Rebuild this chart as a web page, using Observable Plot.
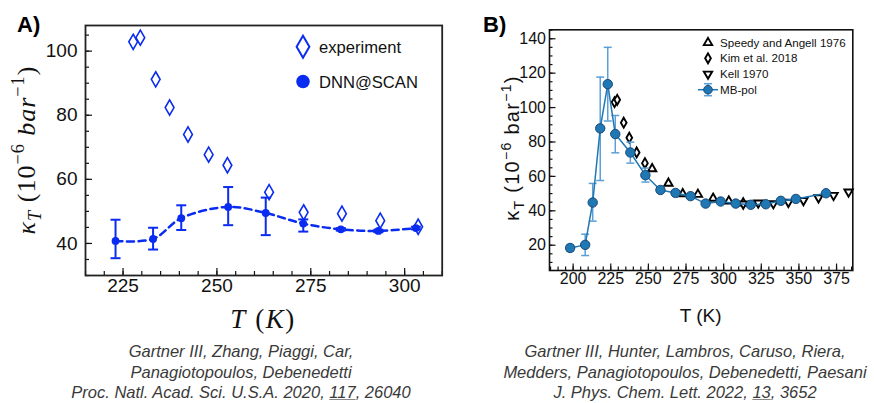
<!DOCTYPE html>
<html><head><meta charset="utf-8">
<script src="https://cdn.jsdelivr.net/npm/d3@7"></script>
<script src="https://cdn.jsdelivr.net/npm/@observablehq/plot@0.6"></script>
<style>
body{margin:0;background:#fff;}
#root{position:relative;width:874px;height:403px;overflow:hidden;font-family:"Liberation Sans",Arial,sans-serif;background:#fff;}
.panel{position:absolute;top:0;}
.plbl{position:absolute;top:12px;font-weight:bold;font-size:22px;color:#000;}
.cap{position:absolute;top:341px;text-align:center;font-style:italic;font-size:16.5px;line-height:20.6px;color:#3a3a3a;white-space:nowrap;}
.cap u{text-decoration-color:#888;}
</style></head><body><div id="root"></div>
<script>
// ---------- Panel A data ----------
const expT = [227.7, 229.6, 233.7, 237.4, 242.3, 247.8, 252.8, 263.9, 273.1, 283.3, 293.5, 303.6];
const expK = [102.9, 104.2, 91.2, 82.4, 74.0, 67.7, 64.4, 56.0, 49.7, 49.3, 47.1, 45.2];
const dnnT = [223, 233, 240.5, 253, 263, 273, 283, 293, 303];
const dnnK = [40.8, 41.4, 47.9, 51.4, 49.5, 46.2, 44.4, 43.9, 44.8];
const dnnLo = [35.4, 38.1, 44.2, 45.7, 42.6, 43.7, 44.0, 43.5, 44.4];
const dnnHi = [47.4, 44.9, 51.9, 57.6, 54.3, 47.5, 44.8, 44.3, 45.2];
const aXTicks = [225, 250, 275, 300];
const aYTicks = [40, 60, 80, 100];

// ---------- Panel B data ----------
const mbT = [198, 208, 213, 218, 223, 228, 238, 248, 258, 268, 278, 288, 298, 308, 318, 328, 338, 348, 368];
const mbK = [18.4, 20.2, 44.8, 87.9, 113.6, 84.6, 73.9, 60.7, 52.1, 50.4, 48.5, 44.2, 45.4, 44.2, 43.5, 43.8, 45.8, 46.9, 50.2];
const mbLo = [16.5, 14.0, 34.0, 57.6, 92.2, 73.7, 67.7, 56.7, 51.2, 49.5, 47.6, 43.4, 44.6, 43.4, 42.7, 43.0, 45.0, 46.1, 49.4];
const mbHi = [20.2, 26.4, 55.9, 117.7, 135.0, 95.4, 79.9, 64.8, 53.0, 51.3, 49.4, 45.0, 46.2, 45.0, 44.3, 44.6, 46.6, 47.7, 51.0];
const speedyT = [252.5, 263.3, 272.8, 282.9, 293.0, 303.4, 313.0];
const speedyK = [64.4, 56.0, 49.9, 49.5, 47.2, 45.6, 44.5];
const kimT = [227.5, 229.3, 233.6, 237.3, 242.2, 247.7];
const kimK = [103.1, 104.5, 91.2, 82.5, 73.9, 67.7];
const kellT = [313, 323, 333, 343, 353, 363, 373, 383];
const kellK = [44.0, 44.6, 44.2, 45.0, 46.0, 47.6, 49.0, 51.0];
const bXTicks = [200, 225, 250, 275, 300, 325, 350, 375];
const bYTicks = [20, 40, 60, 80, 100, 120, 140];

const legendA = ["experiment", "DNN@SCAN"];
const legendB = ["Speedy and Angell 1976", "Kim et al. 2018", "Kell 1970", "MB-pol"];

// tables
const expData = expT.map((t, i) => ({T: t, K: expK[i]}));
const dnnData = dnnT.map((t, i) => ({T: t, K: dnnK[i], lo: dnnLo[i], hi: dnnHi[i]}));
const mbData = mbT.map((t, i) => ({T: t, K: mbK[i], lo: mbLo[i], hi: mbHi[i]}));
const speedyData = speedyT.map((t, i) => ({T: t, K: speedyK[i]}));
const kimData = kimT.map((t, i) => ({T: t, K: kimK[i]}));
const kellData = kellT.map((t, i) => ({T: t, K: kellK[i]}));

const capSymbol = {draw(ctx, size) { const w = Math.sqrt(size / Math.PI); ctx.moveTo(-w, 0); ctx.lineTo(w, 0); }};

const BLUE = "#0a2cf0";
const SANS = "Liberation Sans, Arial, Helvetica, sans-serif";
const SERIF = "Liberation Serif, Times New Roman, serif";

function rich(svg, {x, y, rotate = 0, size, family, anchor = "middle", spacing = 0}, parts) {
  const t = d3.select(svg).append("text")
    .attr("transform", `translate(${x},${y}) rotate(${rotate})`)
    .attr("text-anchor", anchor).attr("font-family", family)
    .attr("font-size", size).attr("fill", "#111")
    .attr("letter-spacing", spacing);
  let cur = 0;
  for (const p of parts) {
    const s = t.append("tspan").text(p.t);
    const target = p.sup ? -0.42 * size : p.sub ? 0.24 * size : 0;
    if (target !== cur) { s.attr("dy", target - cur); cur = target; }
    if (p.sup || p.sub) s.attr("font-size", size * 0.7);
    if (p.i) s.attr("font-style", "italic");
  }
  return t;
}

const root = document.getElementById("root");

// ---------- Panel A ----------
const A = Plot.plot({
  width: 450, height: 345,
  marginLeft: 85, marginRight: 8.3, marginTop: 25, marginBottom: 70,
  x: {domain: [215, 310]},
  y: {domain: [30, 108]},
  style: {fontFamily: SANS, color: "#111", background: "transparent", overflow: "visible"},
  marks: [
    Plot.axisX({ticks: d3.range(215, 311, 5), tickSize: -4, tickFormat: () => "", label: null, strokeWidth: 1.2}),
    Plot.axisY({ticks: d3.range(30, 108, 5), tickSize: -4, tickFormat: () => "", label: null, strokeWidth: 1.2}),
    Plot.axisX(aXTicks, {tickSize: -7, tickPadding: 10, label: null, fontSize: 19, strokeWidth: 1.2}),
    Plot.axisY(aYTicks, {tickSize: -7, tickPadding: 15, label: null, fontSize: 19, strokeWidth: 1.2}),
    Plot.frame({stroke: "#222", strokeWidth: 1.8}),
    Plot.dot(expData, {x: "T", y: "K", symbol: "diamond", r: 4.6, stroke: BLUE, strokeWidth: 1.6, fill: "white"}),
    Plot.line(dnnData, {x: "T", y: "K", curve: "catmull-rom", stroke: BLUE, strokeWidth: 2.5, strokeDasharray: "7,4.5"}),
    Plot.ruleX(dnnData, {x: "T", y1: "lo", y2: "hi", stroke: BLUE, strokeWidth: 2}),
    Plot.dot(dnnData, {x: "T", y: "lo", symbol: capSymbol, r: 5, stroke: BLUE, strokeWidth: 2, fill: "none"}),
    Plot.dot(dnnData, {x: "T", y: "hi", symbol: capSymbol, r: 5, stroke: BLUE, strokeWidth: 2, fill: "none"}),
    Plot.dot(dnnData, {x: "T", y: "K", r: 3.9, fill: BLUE})
  ]
});
A.classList.add("panel");
A.style.left = "0px";
root.appendChild(A);

// A legend
{
  const g = d3.select(A).append("g");
  g.append("path").attr("transform", "translate(303,46.7)")
    .attr("d", d3.symbol(d3.symbolDiamond, Math.PI * 6.7 * 6.7)())
    .attr("fill", "white").attr("stroke", BLUE).attr("stroke-width", 2);
  g.append("circle").attr("cx", 303).attr("cy", 81.5).attr("r", 6.8).attr("fill", BLUE);
  g.selectAll("text.lg").data(legendA).join("text")
    .attr("x", 319).attr("y", (d, i) => 47 + i * 34.8).attr("dy", "0.35em")
    .attr("text-anchor", "start")
    .attr("font-family", SANS).attr("font-size", 16.6).attr("fill", "#111").text(d => d);
}
// A axis labels
rich(A, {x: 35, y: 150, rotate: -90, size: 26, family: SERIF, spacing: 1}, [
  {t: "κ", i: true}, {t: "T", i: true, sub: true}, {t: " (10"}, {t: "−6", sup: true},
  {t: " bar", i: true}, {t: "−1", sup: true}, {t: ")"}
]);
rich(A, {x: 263, y: 328, size: 27, family: SERIF, spacing: 1.5}, [
  {t: "T", i: true}, {t: " ("}, {t: "K", i: true}, {t: ")"}
]);

// ---------- Panel B ----------
const B = Plot.plot({
  width: 404, height: 345,
  marginLeft: 79, marginRight: 21.7, marginTop: 29.3, marginBottom: 75,
  x: {domain: [184.3, 385.8]},
  y: {domain: [5.3, 145.2]},
  style: {fontFamily: SANS, color: "#111", background: "transparent", overflow: "visible"},
  marks: [
    Plot.axisX({ticks: d3.range(185, 386, 5), tickSize: -3.5, tickFormat: () => "", label: null, strokeWidth: 1.2}),
    Plot.axisY({ticks: d3.range(10, 146, 5), tickSize: -3.5, tickFormat: () => "", label: null, strokeWidth: 1.2}),
    Plot.axisX(bXTicks, {tickSize: -6.5, tickPadding: 9, label: null, fontSize: 16, strokeWidth: 1.2}),
    Plot.axisY(bYTicks, {tickSize: -6.5, tickPadding: 10, label: null, fontSize: 16, strokeWidth: 1.2}),
    Plot.frame({stroke: "#111", strokeWidth: 1.6}),
    Plot.dot(speedyData, {x: "T", y: "K", symbol: "triangle", r: 3.1, stroke: "#000", strokeWidth: 1.9, fill: "white"}),
    Plot.dot(kimData, {x: "T", y: "K", symbol: "diamond", r: 3.0, stroke: "#000", strokeWidth: 1.9, fill: "white"}),
    Plot.dot(kellData, {x: "T", y: "K", symbol: "triangle", rotate: 180, r: 3.1, stroke: "#000", strokeWidth: 1.9, fill: "white"}),
    Plot.ruleX(mbData, {x: "T", y1: "lo", y2: "hi", stroke: "#5b9fd6", strokeWidth: 1.5}),
    Plot.dot(mbData, {x: "T", y: "lo", symbol: capSymbol, r: 4, stroke: "#5b9fd6", strokeWidth: 1.5, fill: "none"}),
    Plot.dot(mbData, {x: "T", y: "hi", symbol: capSymbol, r: 4, stroke: "#5b9fd6", strokeWidth: 1.5, fill: "none"}),
    Plot.line(mbData, {x: "T", y: "K", stroke: "#1f77b4", strokeWidth: 1.5}),
    Plot.dot(mbData, {x: "T", y: "K", r: 4.7, fill: "#1f77b4", stroke: "#1a4a78", strokeWidth: 1})
  ]
});
B.classList.add("panel");
B.style.left = "470px";
root.appendChild(B);

// B legend
{
  const g = d3.select(B).append("g");
  const lx = 708 - 470, ys = [42.7, 58.3, 74, 89.7];
  g.append("path").attr("transform", `translate(${lx},${ys[0]})`)
    .attr("d", d3.symbol(d3.symbolTriangle, Math.PI * 3.1 * 3.1)()).attr("fill", "white").attr("stroke", "#000").attr("stroke-width", 1.9);
  g.append("path").attr("transform", `translate(${lx},${ys[1]})`)
    .attr("d", d3.symbol(d3.symbolDiamond, Math.PI * 3 * 3)()).attr("fill", "white").attr("stroke", "#000").attr("stroke-width", 1.9);
  g.append("path").attr("transform", `translate(${lx},${ys[2]}) rotate(180)`)
    .attr("d", d3.symbol(d3.symbolTriangle, Math.PI * 3.1 * 3.1)()).attr("fill", "white").attr("stroke", "#000").attr("stroke-width", 1.9);
  const y3 = ys[3];
  g.append("line").attr("x1", lx - 10).attr("x2", lx + 10).attr("y1", y3).attr("y2", y3).attr("stroke", "#1f77b4").attr("stroke-width", 1.5);
  g.append("line").attr("x1", lx).attr("x2", lx).attr("y1", y3 - 6).attr("y2", y3 + 6).attr("stroke", "#5b9fd6").attr("stroke-width", 1.5);
  g.append("line").attr("x1", lx - 4).attr("x2", lx + 4).attr("y1", y3 - 6).attr("y2", y3 - 6).attr("stroke", "#5b9fd6").attr("stroke-width", 1.5);
  g.append("line").attr("x1", lx - 4).attr("x2", lx + 4).attr("y1", y3 + 6).attr("y2", y3 + 6).attr("stroke", "#5b9fd6").attr("stroke-width", 1.5);
  g.append("circle").attr("cx", lx).attr("cy", y3).attr("r", 4.3).attr("fill", "#1f77b4").attr("stroke", "#1a4a78");
  g.selectAll("text.lg").data(legendB).join("text")
    .attr("x", 720 - 470).attr("y", (d, i) => ys[i]).attr("dy", "0.35em")
    .attr("text-anchor", "start")
    .attr("font-family", SANS).attr("font-size", 11.6).attr("fill", "#111").text(d => d);
}
rich(B, {x: 519 - 470, y: 148, rotate: -90, size: 20, family: SANS, spacing: 1.3}, [
  {t: "κ"}, {t: "T", sub: true}, {t: " (10"}, {t: "−6", sup: true}, {t: " bar"}, {t: "−1", sup: true}, {t: ")"}
]);
rich(B, {x: 700.6 - 470, y: 322, size: 19, family: SANS}, [{t: "T (K)"}]);

// panel labels
const la = document.createElement("div"); la.className = "plbl"; la.style.left = "17px"; la.textContent = "A)"; root.appendChild(la);
const lb = document.createElement("div"); lb.className = "plbl"; lb.style.left = "483px"; lb.textContent = "B)"; root.appendChild(lb);

// captions
const c1 = document.createElement("div"); c1.className = "cap"; c1.style.left = "21px"; c1.style.width = "440px";
c1.innerHTML = "Gartner III, Zhang, Piaggi, Car,<br>Panagiotopoulos, Debenedetti<br>Proc. Natl. Acad. Sci. U.S.A. 2020, <u>117</u>, 26040";
root.appendChild(c1);
const c2 = document.createElement("div"); c2.className = "cap"; c2.style.left = "485px"; c2.style.width = "400px";
c2.innerHTML = "Gartner III, Hunter, Lambros, Caruso, Riera,<br>Medders, Panagiotopoulos, Debenedetti, Paesani<br>J. Phys. Chem. Lett. 2022, <u>13</u>, 3652";
root.appendChild(c2);
</script></body></html>
